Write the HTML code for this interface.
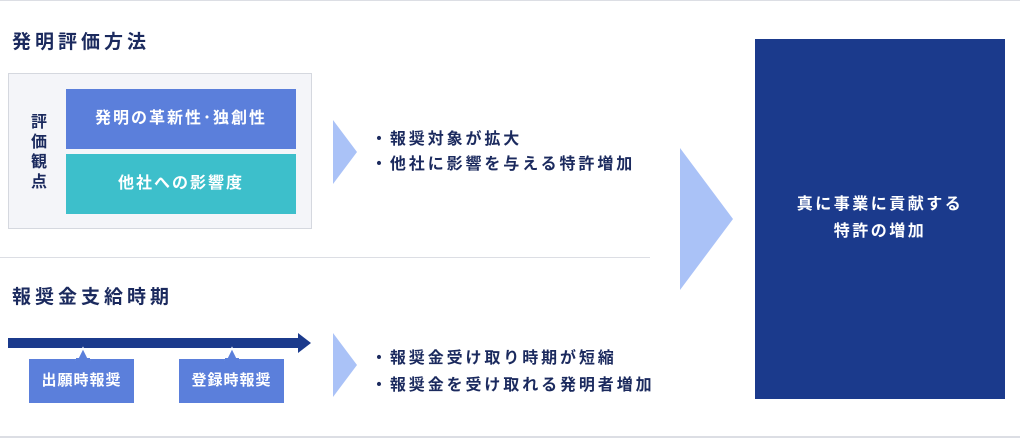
<!DOCTYPE html>
<html><head><meta charset="utf-8"><style>
body{margin:0;width:1020px;height:438px;background:#fff;position:relative;overflow:hidden;font-family:"Liberation Sans","Noto Sans CJK JP",sans-serif;font-weight:bold}
.a{position:absolute}
.h{color:#1b2a5e;font-size:19px;letter-spacing:4px;line-height:22px}
.t{color:#1b2a5e;font-size:16px;letter-spacing:2.9px;line-height:25px}
.w{color:#fff;text-align:center}
</style></head><body>
<div class="a" style="left:0;top:0;width:1020px;height:1px;background:#dcdee4"></div>
<div class="a" style="left:0;top:436px;width:1020px;height:2px;background:#dcdee4"></div>
<div class="a" style="left:0;top:257px;width:650px;height:1px;background:#dcdee4"></div>

<div class="a h" style="left:12px;top:32px">発明評価方法</div>
<div class="a" style="left:8px;top:73px;width:302px;height:154px;background:#f4f5f9;border:1px solid #d5d8df"></div>
<div class="a" style="left:29px;top:113px;width:20px;font-size:16px;line-height:20px;color:#1b2a5e;text-align:center">評<br>価<br>観<br>点</div>
<div class="a w" style="left:66px;top:89px;width:230px;height:60px;line-height:60px;background:#5b7fdb;font-size:16px;letter-spacing:2px">発明の革新性･独創性</div>
<div class="a w" style="left:66px;top:154px;width:230px;height:60px;line-height:60px;background:#3dbfcb;font-size:16px;letter-spacing:2px">他社への影響度</div>

<svg class="a" style="left:0;top:0" width="1020" height="438">
<polygon points="333,120 357,152 333,184" fill="#aac2f7"/>
<polygon points="333,333 357,365 333,397" fill="#aac2f7"/>
<polygon points="680,148 733,219 680,290" fill="#aac2f7"/>
<rect x="8" y="338" width="294" height="10" fill="#1b3a8c"/>
<polygon points="298,333 311,343 298,353" fill="#1b3a8c"/>
<rect x="29" y="359" width="105" height="44" fill="#5b7fdb"/>
<rect x="179" y="359" width="105" height="44" fill="#5b7fdb"/>
<polygon points="77,360 83,348 89,360" fill="#5b7fdb" stroke="#fff" stroke-width="1.5"/>
<polygon points="226,360 232,348 238,360" fill="#5b7fdb" stroke="#fff" stroke-width="1.5"/>
<rect x="76" y="358" width="14" height="4" fill="#5b7fdb"/>
<rect x="225" y="358" width="14" height="4" fill="#5b7fdb"/>
</svg>

<div class="a t" style="left:371px;top:127px">・報奨対象が拡大<br>・他社に影響を与える特許増加</div>

<div class="a h" style="left:12px;top:287px">報奨金支給時期</div>
<div class="a w" style="left:29px;top:359px;width:105px;height:44px;line-height:44px;font-size:15px;letter-spacing:1px">出願時報奨</div>
<div class="a w" style="left:179px;top:359px;width:105px;height:44px;line-height:44px;font-size:15px;letter-spacing:1px">登録時報奨</div>
<div class="a t" style="left:371px;top:345px;line-height:27px">・報奨金受け取り時期が短縮<br>・報奨金を受け取れる発明者増加</div>

<div class="a" style="left:755px;top:39px;width:250px;height:360px;background:#1b3a8c"></div>
<div class="a w" style="left:755px;top:191px;width:250px;font-size:16px;line-height:27px;letter-spacing:2.5px">真に事業に貢献する<br>特許の増加</div>
</body></html>
